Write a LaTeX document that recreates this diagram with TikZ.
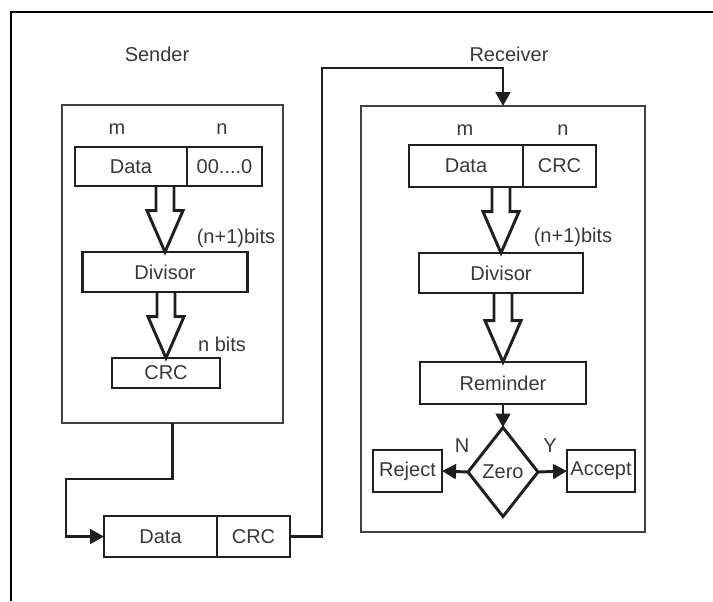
\documentclass[tikz,border=0pt]{standalone}
\usepackage{fontspec}
\setmainfont{Liberation Sans}
\usetikzlibrary{arrows.meta,calc,shapes.geometric}

% hollow block arrow from the bottom of one node to the top of another
\newcommand{\fatarrow}[2]{%
  \draw[fatline] let \p1=(#1.south), \p2=(#2.north) in
    (\x2-6.75pt,\y1) -- (\x2-6.75pt,\y2+31pt) -- (\x2-13.5pt,\y2+31pt)
    -- (\x2,\y2) -- (\x2+13.5pt,\y2+31pt) -- (\x2+6.75pt,\y2+31pt)
    -- (\x2+6.75pt,\y1);}

\begin{document}
\begin{tikzpicture}[x=0.75pt,y=-0.75pt,
  txt/.style={text=black!78,font=\fontsize{15}{17}\selectfont},
  cell/.style={txt,draw=black!88,line width=2.2pt,inner sep=0pt,outer sep=0pt},
  panel/.style={draw=black!75,line width=1.6pt,inner sep=0pt,outer sep=0pt},
  link/.style={draw=black!88,line width=2.2pt,line join=miter},
  tip/.style={-{Triangle[length=10.5pt,width=11pt]}},
  fatline/.style={draw=black!88,line width=2.2pt,line join=miter}]
\useasboundingbox (0,0) rectangle (713,601);

% page frame
\draw[black,line width=2.2pt] (11,601) -- (11,12) -- (713,12);

% ---- sender ----
\node[txt] (sendlbl) at (157,54) {Sender};
\node[panel,minimum width=165.75pt,minimum height=238.5pt] (sbox) at (172.5,264) {};
\node[txt] (sm) at (117,129) {m};
\node[txt] (sn) at (222,129) {n};
\node[cell,minimum width=84pt,minimum height=29.25pt] (sdata) at (131,166.5) {Data};
\node[cell,minimum width=56.25pt,minimum height=29.25pt] (szero) at (224.5,166.5) {00....0};
\node[cell,minimum width=123.75pt,minimum height=30pt] (sdiv) at (165,272) {Divisor};
\node[cell,minimum width=81pt,minimum height=22.5pt] (scrc) at (166,373) {CRC};
\node[txt] (sbits1) at (236,238) {(n+1)bits};
\node[txt] (sbits2) at (222,344) {n bits};
\fatarrow{sdata}{sdiv}
\fatarrow{sdiv}{scrc}

% ---- transmitted frame ----
\node[cell,minimum width=84.75pt,minimum height=30.75pt] (bdata) at (160.5,536.5) {Data};
\node[cell,minimum width=54.75pt,minimum height=30.75pt] (bcrc) at (253.5,536.5) {CRC};

% ---- receiver ----
\node[txt] (recvlbl) at (509,54) {Receiver};
\node[panel,minimum width=213pt,minimum height=319.5pt] (rbox) at (503,319) {};
\node[txt] (rm) at (465,130) {m};
\node[txt] (rn) at (563,130) {n};
\node[cell,minimum width=85.5pt,minimum height=31.5pt] (rdata) at (466,166) {Data};
\node[cell,minimum width=54.75pt,minimum height=31.5pt] (rcrc) at (559.5,166) {CRC};
\node[cell,minimum width=123pt,minimum height=30pt] (rdiv) at (501,273) {Divisor};
\node[cell,minimum width=124.5pt,minimum height=31.5pt] (rrem) at (503,383) {Reminder};
\node[txt] (rbits) at (573,237) {(n+1)bits};
\fatarrow{rdata}{rdiv}
\fatarrow{rdiv}{rrem}
\node[cell,shape=diamond,minimum width=52.5pt,minimum height=66.75pt] (zero) at (503,472) {Zero};
\node[cell,minimum width=51.75pt,minimum height=31.5pt] (reject) at (407.5,471) {Reject};
\node[cell,minimum width=51pt,minimum height=31.5pt] (accept) at (601,471) {Accept};
\node[txt] (nlbl) at (462,446) {N};
\node[txt] (ylbl) at (550,446) {Y};
\draw[link,tip] (rrem.south) -- (zero.north);
\draw[link,tip] (zero.west) -- (reject.east);
\draw[link,tip] (zero.east) -- (accept.west);

% ---- connectors between sender, channel and receiver ----
\coordinate (s1) at (172.5,479);
\coordinate (s2) at (66,479);
\draw[link,tip] (sbox.south) -- (s1) -- (s2) |- (bdata.west);
\coordinate (r1) at (322,536.5);
\coordinate (r2) at (322,68);
\draw[link,tip] (bcrc.east) -- (r1) -- (r2) -| (rbox.north);
\end{tikzpicture}
\end{document}
